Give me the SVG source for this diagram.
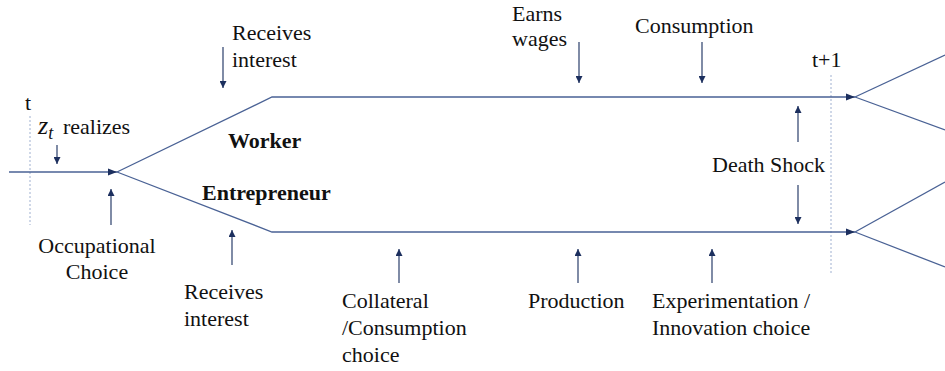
<svg xmlns="http://www.w3.org/2000/svg" width="945" height="371" viewBox="0 0 945 371">
  <style>
    .lbl { font-family: "Liberation Serif", "Times New Roman", serif; font-size: 22px; fill: #111; }
    .bold { font-weight: bold; }
    .path { fill: none; stroke: #4a6295; stroke-width: 1.3; }
    .ptr { fill: none; stroke: #2b3f6b; stroke-width: 1.2; }
    .time { fill: none; stroke: #9fb0d0; stroke-width: 1; stroke-dasharray: 2 2; }
  </style>
  <defs>
    <marker id="tip" viewBox="0 0 10 10" refX="10" refY="5" markerWidth="7" markerHeight="7" markerUnits="userSpaceOnUse" orient="auto">
      <path d="M0,0 L10,5 L0,10 z" fill="#1c2f5e"/>
    </marker>
    <marker id="join" viewBox="0 0 10 10" refX="10" refY="5" markerWidth="9" markerHeight="9" markerUnits="userSpaceOnUse" orient="auto">
      <path d="M0,1 L10,5 L0,9 z" fill="#1c2f5e"/>
    </marker>
  </defs>

  <!-- time markers -->
  <g id="time-t">
    <line class="time" x1="30" y1="116" x2="30" y2="225"/>
    <text class="lbl" x="25" y="110">t</text>
  </g>
  <g id="time-t1">
    <line class="time" x1="831" y1="75" x2="831" y2="273"/>
    <text class="lbl" x="812" y="67">t+1</text>
  </g>

  <!-- life paths -->
  <g id="connectors">
    <line class="path" x1="9" y1="172" x2="117" y2="172" marker-end="url(#join)"/>
    <polyline class="path" points="117,172 272,97 855,97" marker-end="url(#join)"/>
    <polyline class="path" points="117,172 272,232 855,232" marker-end="url(#join)"/>
    <line class="path" x1="855" y1="97" x2="945" y2="55"/>
    <line class="path" x1="855" y1="97" x2="945" y2="130"/>
    <line class="path" x1="855" y1="232" x2="945" y2="182"/>
    <line class="path" x1="855" y1="232" x2="945" y2="267"/>

    <!-- event pointers -->
    <line class="ptr" x1="57" y1="145" x2="57" y2="164" marker-end="url(#tip)"/>
    <line class="ptr" x1="111" y1="225" x2="111" y2="189" marker-end="url(#tip)"/>
    <line class="ptr" x1="223" y1="47" x2="223" y2="88" marker-end="url(#tip)"/>
    <line class="ptr" x1="579" y1="42" x2="579" y2="83" marker-end="url(#tip)"/>
    <line class="ptr" x1="702" y1="42" x2="702" y2="83" marker-end="url(#tip)"/>
    <line class="ptr" x1="798" y1="142" x2="798" y2="106" marker-end="url(#tip)"/>
    <line class="ptr" x1="798" y1="185" x2="798" y2="224" marker-end="url(#tip)"/>
    <line class="ptr" x1="232" y1="265" x2="232" y2="230" marker-end="url(#tip)"/>
    <line class="ptr" x1="399" y1="283" x2="399" y2="249" marker-end="url(#tip)"/>
    <line class="ptr" x1="578" y1="283" x2="578" y2="249" marker-end="url(#tip)"/>
    <line class="ptr" x1="712" y1="283" x2="712" y2="249" marker-end="url(#tip)"/>
  </g>

  <!-- occupations -->
  <g id="worker">
    <text class="lbl bold" x="228" y="148">Worker</text>
  </g>
  <g id="entrepreneur">
    <text class="lbl bold" x="202" y="200">Entrepreneur</text>
  </g>

  <!-- events -->
  <g id="z-realizes">
    <text class="lbl" x="38" y="134"><tspan font-style="italic" font-size="26">z</tspan><tspan font-style="italic" font-size="18" dy="5">t</tspan></text>
    <text class="lbl" x="63" y="134">realizes</text>
  </g>
  <g id="occupational-choice">
    <text class="lbl" x="97" y="253" text-anchor="middle">Occupational</text>
    <text class="lbl" x="97" y="279" text-anchor="middle">Choice</text>
  </g>
  <g id="worker-interest">
    <text class="lbl" x="232" y="40">Receives</text>
    <text class="lbl" x="232" y="67">interest</text>
  </g>
  <g id="earns-wages">
    <text class="lbl" x="512" y="21">Earns</text>
    <text class="lbl" x="512" y="46">wages</text>
  </g>
  <g id="consumption">
    <text class="lbl" x="635" y="33">Consumption</text>
  </g>
  <g id="death-shock">
    <text class="lbl" x="712" y="172">Death Shock</text>
  </g>
  <g id="entrepreneur-interest">
    <text class="lbl" x="184" y="299">Receives</text>
    <text class="lbl" x="184" y="326">interest</text>
  </g>
  <g id="collateral">
    <text class="lbl" x="342" y="308">Collateral</text>
    <text class="lbl" x="342" y="335">/Consumption</text>
    <text class="lbl" x="342" y="362">choice</text>
  </g>
  <g id="production">
    <text class="lbl" x="528" y="308">Production</text>
  </g>
  <g id="experimentation">
    <text class="lbl" x="652" y="308">Experimentation /</text>
    <text class="lbl" x="652" y="335">Innovation choice</text>
  </g>
</svg>
